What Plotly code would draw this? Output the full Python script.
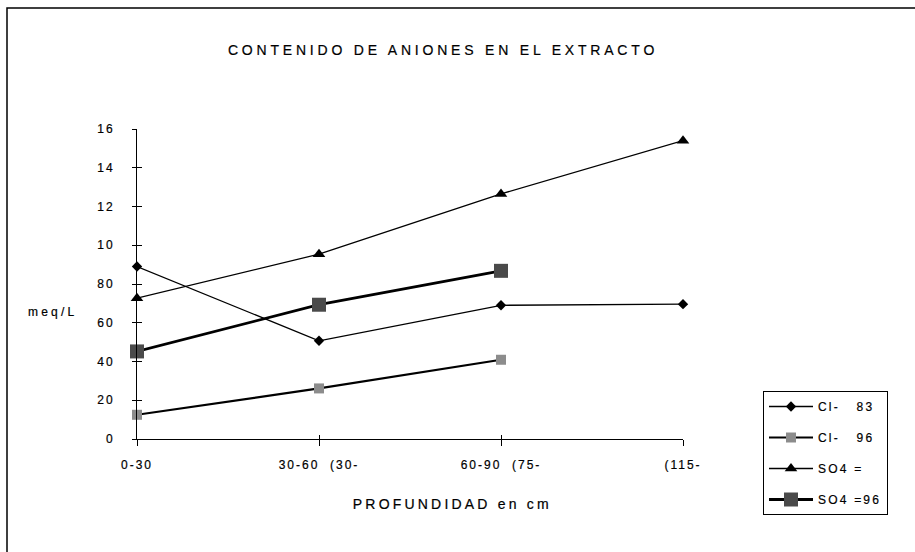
import plotly.graph_objects as go

# ---- data ----
depth_labels = ["0-30", "30-60  (30-", "60-90  (75-", "(115-"]
cl_83 = [89.0, 50.7, 69.0, 69.6]
cl_96 = [12.5, 26.1, 40.9]
so4 = [72.7, 95.4, 126.5, 154.0]
so4_96 = [45.2, 69.3, 86.8]
y_tickvals = [0, 20, 40, 60, 80, 100, 120, 140, 160]
y_ticktext = ["0", "20", "40", "60", "80", "10", "12", "14", "16"]

FONT = "Liberation Sans, Arial, sans-serif"
INK = "#000000"

W, H = 915, 552
L, R, T, B = 137, 232, 129, 113
PW, PH = W - L - R, H - T - B


def px_to_paper_x(px):
    return (px - L) / PW


def px_to_paper_y(py):
    return (H - B - py) / PH


fig = go.Figure()

fig.add_trace(go.Scatter(
    x=depth_labels, y=cl_83, name="Cl-   83", mode="lines+markers",
    line=dict(color="black", width=1.3),
    marker=dict(symbol="diamond", size=8, color="black"),
    legendgroup="a", cliponaxis=False))
fig.add_trace(go.Scatter(
    x=depth_labels[:len(cl_96)], y=cl_96, name="Cl-   96", mode="lines+markers",
    line=dict(color="black", width=2.2),
    marker=dict(symbol="square", size=10, color="#8c8c8c"),
    legendgroup="b", cliponaxis=False))
fig.add_trace(go.Scatter(
    x=depth_labels, y=so4, name="SO4 =", mode="lines+markers",
    line=dict(color="black", width=1.3),
    marker=dict(symbol="triangle-up", size=11, color="black"),
    legendgroup="c", cliponaxis=False))
fig.add_trace(go.Scatter(
    x=depth_labels[:len(so4_96)], y=so4_96, name="SO4 =96", mode="lines+markers",
    line=dict(color="black", width=2.8),
    marker=dict(symbol="square", size=14, color="#4a4a4a"),
    legendgroup="d", cliponaxis=False))
# empty helper trace so the overlay axes (inner half of the crossing ticks) exist
fig.add_trace(go.Scatter(x=[], y=[], xaxis="x2", yaxis="y2", showlegend=False,
                         hoverinfo="skip"))

fig.update_layout(
    width=W, height=H,
    margin=dict(l=L, r=R, t=T, b=B),
    paper_bgcolor="white", plot_bgcolor="white",
    font=dict(family=FONT, size=12, color=INK),
    title=dict(text="CONTENIDO DE ANIONES EN EL EXTRACTO",
               x=px_to_paper_x(443), xref="paper", xanchor="center",
               y=1 - 50 / H, yref="container", yanchor="middle",
               font=dict(family=FONT, size=14, color=INK)),
    xaxis=dict(type="category", categoryorder="array", categoryarray=depth_labels,
               range=[0, 3], showgrid=False, zeroline=False,
               showline=True, linecolor="black", linewidth=1,
               ticks="outside", ticklen=6, tickcolor="black", tickwidth=1,
               ticklabelstandoff=9,
               tickfont=dict(family=FONT, size=12, color=INK)),
    yaxis=dict(range=[0, 160], tickvals=y_tickvals, ticktext=y_ticktext,
               showgrid=False, zeroline=False,
               showline=True, linecolor="black", linewidth=1,
               ticks="outside", ticklen=4, tickcolor="black", tickwidth=1,
               ticklabelstandoff=15,
               tickfont=dict(family=FONT, size=12, color=INK)),
    xaxis2=dict(overlaying="x", anchor="y2", range=[0, 3], tickvals=[0, 1, 2, 3],
                showticklabels=False, showgrid=False, zeroline=False, showline=False,
                ticks="inside", ticklen=4, tickcolor="black", tickwidth=1),
    yaxis2=dict(overlaying="y", anchor="x2", range=[0, 160], tickvals=y_tickvals,
                showticklabels=False, showgrid=False, zeroline=False, showline=False,
                ticks="inside", ticklen=5, tickcolor="black", tickwidth=1),
    showlegend=True,
    legend=dict(x=px_to_paper_x(763), xanchor="left", xref="paper",
                y=px_to_paper_y(391), yanchor="top", yref="paper",
                bordercolor="black", borderwidth=1, bgcolor="white",
                font=dict(family=FONT, size=12, color=INK),
                itemwidth=44, tracegroupgap=12, traceorder="grouped"),
    shapes=[dict(type="rect", xref="paper", yref="paper",
                 x0=px_to_paper_x(7), x1=px_to_paper_x(930),
                 y0=px_to_paper_y(570), y1=px_to_paper_y(8),
                 line=dict(color="black", width=1.5), fillcolor="rgba(0,0,0,0)",
                 layer="below")],
    annotations=[
        dict(text="meq/L", xref="paper", yref="paper",
             x=px_to_paper_x(53), y=px_to_paper_y(312),
             xanchor="center", yanchor="middle", showarrow=False,
             font=dict(family=FONT, size=12, color=INK)),
        dict(text="PROFUNDIDAD en cm", xref="paper", yref="paper",
             x=px_to_paper_x(452), y=px_to_paper_y(504),
             xanchor="center", yanchor="middle", showarrow=False,
             font=dict(family=FONT, size=14, color=INK)),
    ],
)

post = """
var gd = document.getElementById('{plot_id}');
var st = document.createElement('style');
st.textContent = 'html,body{margin:0;padding:0;overflow:hidden;} '
  + '.gtitle{letter-spacing:3.8px;} .xtick text,.ytick text{letter-spacing:2px;} '
  + 'text.legendtext{letter-spacing:2.2px;} .annotation-text{letter-spacing:3.2px;} '
  + '.main-svg text{stroke:#000;stroke-width:0.2px;}';
document.head.appendChild(st);
Plotly.relayout(gd, {'legend.font.size': 12.01});
"""

fig.write_html("out.html", post_script=post, config={"displayModeBar": False})
